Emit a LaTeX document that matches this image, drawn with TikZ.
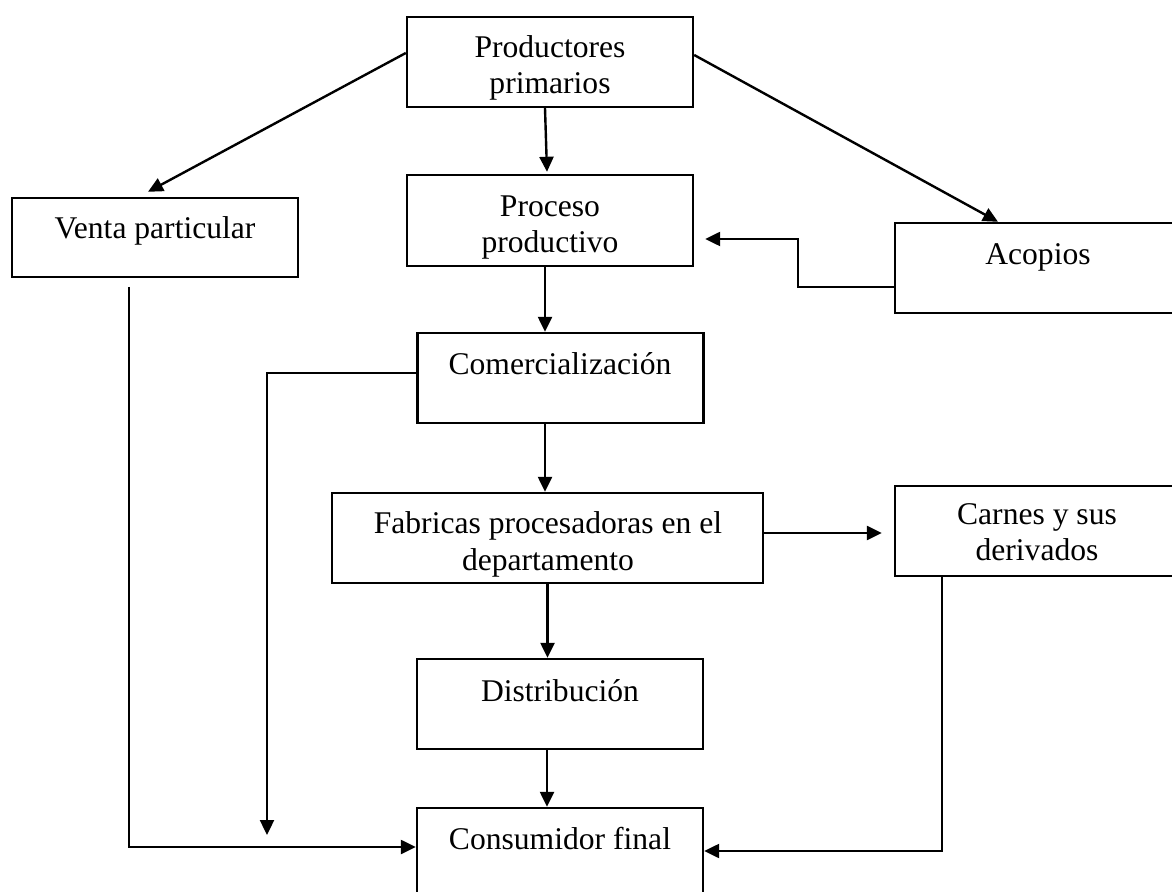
\documentclass[tikz,border=0pt]{standalone}
\usepackage{fontspec}
\setmainfont{Liberation Serif}
\usetikzlibrary{arrows.meta}

\tikzset{
  caja/.style={draw, line width=1.2pt, inner sep=0pt, minimum width=143pt, minimum height=45pt},
  texto/.style={align=center, inner sep=0pt, anchor=base, font=\fontsize{15.8}{18}\selectfont},
  flecha/.style={line width=1.2pt, -{Triangle[length=7.5pt,width=7pt]}}
}

\begin{document}
\begin{tikzpicture}[x=0.5pt,y=-0.5pt]
    \clip (0,0) rectangle (1172,892);

    % cajas (texto: base de la ultima linea)
    \node[caja] (prod) at (550,62) {};
    \node[texto] (prodtxt) at (550,94) {Productores\\primarios};

    \node[caja, minimum height=39.5pt] (venta) at (155,237.5) {};
    \node[texto] (ventatxt) at (155,239) {Venta particular};

    \node[caja, minimum height=45.5pt] (proc) at (550,220.5) {};
    \node[texto] (proctxt) at (550,253) {Proceso\\productivo};

    \node[caja] (acop) at (1038,268) {};
    \node[texto] (acoptxt) at (1038,265) {Acopios};

    \node[caja] (comer) at (560.5,378) {};
    \node[texto] (comertxt) at (560,375) {Comercialización};

    \node[caja, minimum width=215.5pt] (fabr) at (547.5,538) {};
    \node[texto] (fabrtxt) at (548,570) {Fabricas procesadoras en el\\departamento};

    \node[caja] (carn) at (1038,531) {};
    \node[texto] (carntxt) at (1037,560) {Carnes y sus\\derivados};

    \node[caja] (dist) at (560,704) {};
    \node[texto] (disttxt) at (560,701) {Distribución};

    \node[caja] (cons) at (560,853) {};
    \node[texto] (constxt) at (560,849) {Consumidor final};

    % extremos libres
    \coordinate (ventaini) at (129,287);
    \coordinate (comerfin) at (267,835);

    % flechas
    \draw[flecha] ([yshift=4.5pt]prod.west) -- ([xshift=-3.5pt,yshift=2.5pt]venta.north);
    \draw[flecha] ([yshift=3.5pt]prod.east) -- ([xshift=-20pt]acop.north);
    \draw[flecha] ([xshift=-2.5pt]prod.south) -- ([xshift=-1.5pt,yshift=1pt]proc.north);
    \draw[flecha] ([yshift=-9.5pt]acop.west) -- ++(-96,0) |- ([xshift=5.5pt,yshift=-9.25pt]proc.east);
    \draw[flecha] ([xshift=-2.5pt]proc.south) -- ([xshift=-2.5pt]proc.south |- comer.north);
    \draw[flecha] ([xshift=-7.75pt]comer.south) -- ([xshift=-7.75pt]comer.south |- fabr.north);
    \draw[flecha] ([yshift=2.5pt]comer.west) -| (comerfin);
    \draw[flecha] (ventaini) |- ([yshift=3pt]cons.west);
    \draw[flecha] ([yshift=2.5pt]fabr.east) -- ([xshift=-6pt,yshift=2.5pt]fabr.east -| carn.west);
    \draw[flecha] (fabr.south) -- (fabr.south |- dist.north);
    \draw[flecha] ([xshift=-6.5pt]dist.south) -- ([xshift=-6.5pt]dist.south |- cons.north);
    \draw[flecha] ([xshift=-48pt]carn.south) |- ([yshift=1pt]cons.east);
\end{tikzpicture}
\end{document}
